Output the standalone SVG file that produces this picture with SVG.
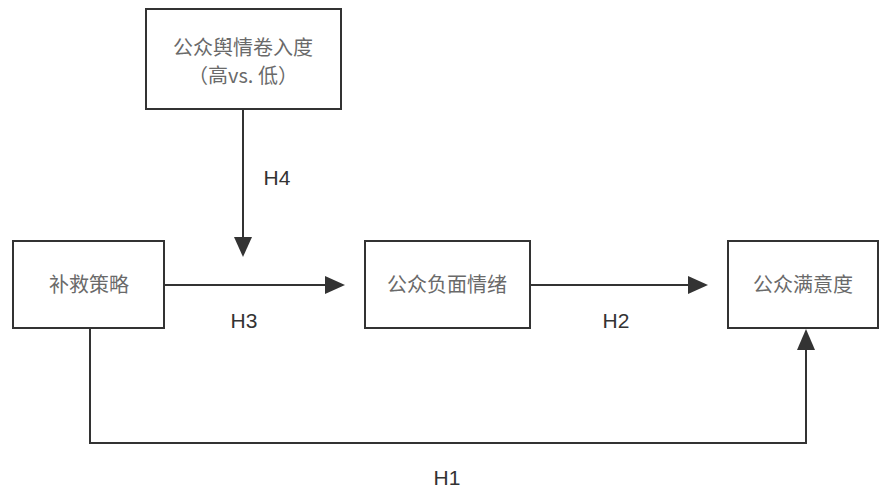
<svg xmlns="http://www.w3.org/2000/svg" width="888" height="492" viewBox="0 0 888 492">
<style>
.box{fill:#fff;stroke:#333;stroke-width:2}
.t{font-family:"Noto Sans CJK SC","Noto Sans",sans-serif;font-size:20px;fill:#6a6a6a;text-anchor:middle}
.lbl{font-family:"Liberation Sans","Noto Sans",sans-serif;font-size:21px;fill:#333;text-anchor:middle}
.ln{fill:none;stroke:#333;stroke-width:2}
.ah{fill:#333}
</style>
<rect width="888" height="492" fill="#fff"/>
<g id="connectors">
<path class="ln" d="M243,109 V245"/>
<path class="ah" d="M234,237 L243,257 L252,237 Z"/>
<path class="ln" d="M164,285 H335"/>
<path class="ah" d="M325,276 L345,285 L325,294 Z"/>
<path class="ln" d="M530,285 H698"/>
<path class="ah" d="M688,276 L708,285 L688,294 Z"/>
<path class="ln" d="M90,328 V443 H806 V340"/>
<path class="ah" d="M797,350 L806,329 L815,350 Z"/>
<text class="lbl" x="277" y="185">H4</text>
<text class="lbl" x="244" y="328">H3</text>
<text class="lbl" x="616" y="328">H2</text>
<text class="lbl" x="447" y="485">H1</text>
</g>
<g id="node-involvement">
<rect class="box" x="146" y="9" width="195" height="100"/>
<text class="t" x="243" y="55">公众舆情卷入度</text>
<text class="t" x="243" y="83">（高vs. 低）</text>
</g>
<g id="node-strategy">
<rect class="box" x="13" y="241" width="151" height="87"/>
<text class="t" x="89" y="292">补救策略</text>
</g>
<g id="node-emotion">
<rect class="box" x="365" y="241" width="165" height="87"/>
<text class="t" x="447" y="292">公众负面情绪</text>
</g>
<g id="node-satisfaction">
<rect class="box" x="728" y="241" width="150" height="87"/>
<text class="t" x="803" y="292">公众满意度</text>
</g>
</svg>
